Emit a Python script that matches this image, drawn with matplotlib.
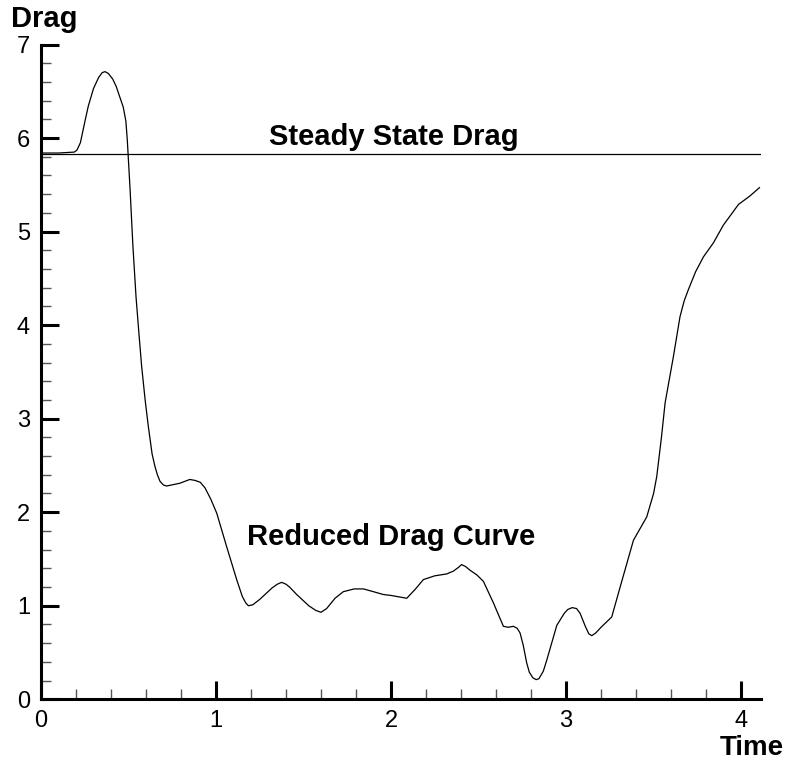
import numpy as np
import matplotlib.pyplot as plt
from matplotlib.ticker import MultipleLocator

plt.rcParams['font.family'] = ['Liberation Sans', 'DejaVu Sans']

# Drag history read from the simulation output
time = [0.00, 0.10, 0.19, 0.205, 0.225, 0.25, 0.27, 0.30, 0.33, 0.35,
        0.366, 0.385, 0.41, 0.43, 0.45, 0.47, 0.485, 0.493, 0.509, 0.525,
        0.543, 0.56, 0.575, 0.595, 0.613, 0.635, 0.651, 0.665, 0.68, 0.70,
        0.718, 0.794, 0.85, 0.88, 0.91, 0.937, 0.97, 1.004, 1.061, 1.118,
        1.15, 1.17, 1.185, 1.21, 1.251, 1.32, 1.35, 1.375, 1.40, 1.42,
        1.461, 1.53, 1.57, 1.60, 1.632, 1.68, 1.727, 1.79, 1.842, 1.90,
        1.956, 2.0, 2.09, 2.14, 2.185, 2.25, 2.318, 2.356, 2.385, 2.403,
        2.425, 2.451, 2.49, 2.528, 2.585, 2.642, 2.67, 2.699, 2.72, 2.737,
        2.755, 2.775, 2.79, 2.81, 2.829, 2.845, 2.87, 2.89, 2.947, 2.99,
        3.01, 3.035, 3.06, 3.08, 3.11, 3.13, 3.147, 3.17, 3.20, 3.261,
        3.309, 3.385, 3.461, 3.50, 3.518, 3.545, 3.566, 3.613, 3.651, 3.675,
        3.699, 3.74, 3.785, 3.842, 3.899, 3.95, 3.985, 4.05, 4.105]
drag = [5.84, 5.84, 5.85, 5.87, 5.95, 6.17, 6.34, 6.53, 6.65, 6.70,
        6.71, 6.69, 6.63, 6.55, 6.44, 6.33, 6.18, 5.98, 5.45, 4.85,
        4.30, 3.90, 3.56, 3.20, 2.92, 2.62, 2.49, 2.40, 2.33, 2.29,
        2.28, 2.31, 2.35, 2.34, 2.32, 2.26, 2.14, 1.99, 1.63, 1.28,
        1.10, 1.03, 1.00, 1.01, 1.07, 1.19, 1.23, 1.25, 1.23, 1.20,
        1.12, 1.00, 0.95, 0.93, 0.97, 1.08, 1.15, 1.18, 1.18, 1.15,
        1.12, 1.11, 1.08, 1.18, 1.28, 1.32, 1.34, 1.37, 1.41, 1.44,
        1.42, 1.38, 1.33, 1.26, 1.03, 0.78, 0.77, 0.78, 0.76, 0.71,
        0.58, 0.39, 0.29, 0.23, 0.21, 0.22, 0.30, 0.42, 0.79, 0.92,
        0.96, 0.98, 0.97, 0.92, 0.78, 0.70, 0.68, 0.71, 0.77, 0.88,
        1.20, 1.70, 1.95, 2.20, 2.38, 2.80, 3.17, 3.66, 4.09, 4.26,
        4.38, 4.57, 4.73, 4.88, 5.07, 5.20, 5.29, 5.38, 5.47]
steady_drag = 5.83

fig = plt.figure(figsize=(7.87, 7.61), dpi=100)
ax = fig.add_axes([0.0521, 0.0811, 0.9149, 0.8604])

ax.axhline(steady_drag, color='black', lw=0.9)
ax.plot(time, drag, color='black', lw=0.9)

ax.set_xlim(0, 4.114)
ax.set_ylim(0, 7)

for side in ('top', 'right'):
    ax.spines[side].set_visible(False)
for side in ('left', 'bottom'):
    ax.spines[side].set_linewidth(2.2)

ax.xaxis.set_major_locator(MultipleLocator(1))
ax.xaxis.set_minor_locator(MultipleLocator(0.2))
ax.yaxis.set_major_locator(MultipleLocator(1))
ax.yaxis.set_minor_locator(MultipleLocator(0.2))
ax.tick_params(which='major', direction='in', length=13, width=2.2,
               labelsize=17, pad=8)
ax.tick_params(which='minor', direction='in', length=7, width=1.0,
               color='#555555')
ax.tick_params(axis='x', which='major', pad=8)

ax.text(2.017, 5.93, 'Steady State Drag', fontsize=21, fontweight='bold',
        ha='center', va='baseline')
ax.text(2.003, 1.65, 'Reduced Drag Curve', fontsize=21, fontweight='bold',
        ha='center', va='baseline')

fig.text(11 / 787, 1 - 27 / 761, 'Drag', fontsize=21, fontweight='bold',
         ha='left', va='baseline')
fig.text(784 / 787, 1 - 755 / 761, 'Time', fontsize=20, fontweight='bold',
         ha='right', va='baseline')

fig.savefig('out.png', dpi=100)
